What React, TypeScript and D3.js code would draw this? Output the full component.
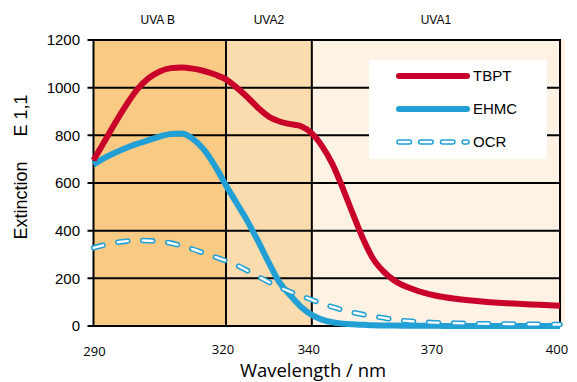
import { useEffect, useRef } from 'react';
import * as d3 from 'd3';

const width = 577;
const height = 382;

// wavelength grid (nm) the curves are sampled on
const wavelengths = [
  290, 292.5, 295, 297.5, 300, 302.5, 305, 307.5, 310, 312.5, 315, 317.5, 320, 322.5, 325, 327.5, 330,
  332.5, 335, 337.5, 340, 342.5, 345, 347.5, 350, 352.5, 355, 357.5, 360, 365, 370, 375, 380, 385, 390,
  395, 400,
];
const tbpt = [
  695, 775, 855, 930, 995, 1040, 1068, 1082, 1085, 1080, 1070, 1055, 1035, 1000, 960, 915, 878, 858, 847,
  838, 808, 755, 680, 580, 470, 365, 280, 228, 192, 152, 128, 114, 105, 98, 93, 89, 85,
];
const ehmc = [
  677, 705, 728, 748, 765, 780, 795, 806, 808, 785, 740, 672, 590, 515, 440, 355, 265, 182, 128, 80, 47,
  27, 16, 10, 7, 5, 3, 2, 2, 1, 1, 0, 0, 0, 0, 0, 0,
];
const ocr = [
  328, 340, 350, 356, 359, 358, 355, 348, 336, 322, 306, 290, 273, 255, 232, 208, 184, 162, 143, 126, 110,
  94, 80, 67, 57, 48, 41, 34, 27, 19, 14, 12, 10, 9, 8, 7, 6,
];

const xTicks = [290, 320, 340, 370, 400];
const yTicks = [0, 200, 400, 600, 800, 1000, 1200];
const bands = [
  { label: 'UVA B', from: 290, to: 320, color: '#f9ca84' },
  { label: 'UVA2', from: 320, to: 340, color: '#fbdcae' },
  { label: 'UVA1', from: 340, to: 400, color: '#fdf2e3' },
];
const series = [
  { name: 'TBPT', values: tbpt, color: '#c8002a', dashed: false },
  { name: 'EHMC', values: ehmc, color: '#22a0d5', dashed: false },
  { name: 'OCR', values: ocr, color: '#22a0d5', dashed: true },
];

const margin = { top: 40, right: 17, bottom: 56, left: 93.5 };
const sans = 'Liberation Sans, Arial, sans-serif';
const calib = 'Open Sans, sans-serif';

export default function App() {
  const ref = useRef<SVGSVGElement>(null);

  useEffect(() => {
    const svg = d3.select(ref.current);
    svg.selectAll('*').remove();
    const gw = width - margin.left - margin.right;
    const gh = height - margin.top - margin.bottom;

    // the original axis is not quite linear, so map it piece by piece
    const x = d3
      .scaleLinear()
      .domain(xTicks)
      .range([0, 0.284, 0.468, 0.732, 1].map((f) => margin.left + f * gw));
    const y = d3.scaleLinear().domain([0, 1200]).range([margin.top + gh, margin.top]);

    // spectral bands
    svg
      .append('g')
      .selectAll('rect')
      .data(bands)
      .join('rect')
      .attr('x', (d) => x(d.from))
      .attr('y', y(1200))
      .attr('width', (d, i) => x(d.to) - x(d.from) + (i === bands.length - 1 ? 5 : 0))
      .attr('height', y(0) - y(1200))
      .attr('fill', (d) => d.color);

    svg
      .append('g')
      .selectAll('text')
      .data(bands)
      .join('text')
      .attr('x', (d) => (x(d.from) + x(d.to)) / 2 + (d.label === 'UVA B' ? -2 : 0))
      .attr('y', 24)
      .attr('text-anchor', 'middle')
      .attr('font-family', sans)
      .attr('font-size', 12)
      .text((d) => d.label);

    const grid = svg.append('g').attr('stroke', '#000').attr('stroke-width', 2);
    grid
      .selectAll('line.h')
      .data(yTicks)
      .join('line')
      .attr('class', 'h')
      .attr('x1', margin.left - 6)
      .attr('x2', x(400))
      .attr('y1', (d) => y(d))
      .attr('y2', (d) => y(d));
    grid
      .selectAll('line.v')
      .data(xTicks.filter((d) => d !== 370))
      .join('line')
      .attr('class', 'v')
      .attr('x1', (d) => x(d))
      .attr('x2', (d) => x(d))
      .attr('y1', y(1200) - 1)
      .attr('y2', y(0) + 1);

    // legend background hides the grid
    const lx = 369;
    const ly = 60;
    svg.append('rect').attr('x', lx).attr('y', ly).attr('width', 178).attr('height', 99).attr('fill', '#fff');

    // y tick labels
    svg
      .append('g')
      .selectAll('text')
      .data(yTicks)
      .join('text')
      .attr('x', 80)
      .attr('y', (d) => y(d))
      .attr('dy', '0.36em')
      .attr('text-anchor', 'end')
      .attr('font-family', sans)
      .attr('font-size', 15)
      .text((d) => d);

    // x tick labels
    svg
      .append('g')
      .selectAll('text')
      .data(xTicks)
      .join('text')
      .attr('x', (d) => x(d) - (d === 290 ? -1 : 3))
      .attr('y', (d) => (d === 290 ? 356 : 354))
      .attr('text-anchor', 'middle')
      .attr('font-family', calib)
      .attr('font-size', 13)
      .text((d) => d);

    svg
      .append('text')
      .attr('x', 313)
      .attr('y', 377)
      .attr('text-anchor', 'middle')
      .attr('font-family', calib)
      .attr('font-size', 18.5)
      .text('Wavelength / nm');

    svg
      .append('text')
      .attr('transform', 'translate(27,167) rotate(-90)')
      .attr('text-anchor', 'middle')
      .attr('font-family', sans)
      .attr('font-size', 18)
      .attr('xml:space', 'preserve')
      .text('Extinction     E 1,1');

    const line = d3
      .line<number>()
      .x((_, i) => x(wavelengths[i]))
      .y((d) => y(d))
      .curve(d3.curveMonotoneX);

    const drawSeries = (
      g: d3.Selection<SVGGElement, unknown, null, undefined>,
      s: (typeof series)[number],
      d: string,
      dash = '10 15'
    ) => {
      if (s.dashed) {
        // hollow dashes: a thick blue dash with a thin white core
        g.append('path')
          .attr('d', d)
          .attr('fill', 'none')
          .attr('stroke', s.color)
          .attr('stroke-width', 5.5)
          .attr('stroke-linecap', 'round')
          .attr('stroke-dasharray', dash);
        g.append('path')
          .attr('d', d)
          .attr('fill', 'none')
          .attr('stroke', '#fff')
          .attr('stroke-width', 2.4)
          .attr('stroke-linecap', 'round')
          .attr('stroke-dasharray', dash);
      } else {
        g.append('path')
          .attr('d', d)
          .attr('fill', 'none')
          .attr('stroke', s.color)
          .attr('stroke-width', 6)
          .attr('stroke-linejoin', 'round')
          .attr('stroke-linecap', 'round');
      }
    };

    const curves = svg.append('g');
    [series[1], series[2], series[0]].forEach((s) => {
      const p = curves.append('g');
      drawSeries(p, s, line(s.values) ?? '');
      p.selectAll('path').filter(() => !s.dashed).attr('stroke-linecap', 'butt');
    });

    // legend entries
    const legend = svg.append('g');
    series.forEach((s, i) => {
      const cy = 76 + i * 33;
      drawSeries(legend.append('g'), s, `M${lx + 30},${cy}H${lx + 98}`, '10.5 11.2');
      legend
        .append('text')
        .attr('x', lx + 104)
        .attr('y', cy)
        .attr('dy', '0.36em')
        .attr('font-family', sans)
        .attr('font-size', 15)
        .text(s.name);
    });
  }, []);

  return (
    <svg
      ref={ref}
      width={width}
      height={height}
      style={{ position: 'absolute', left: 0, top: 0, background: '#fff' }}
    />
  );
}
